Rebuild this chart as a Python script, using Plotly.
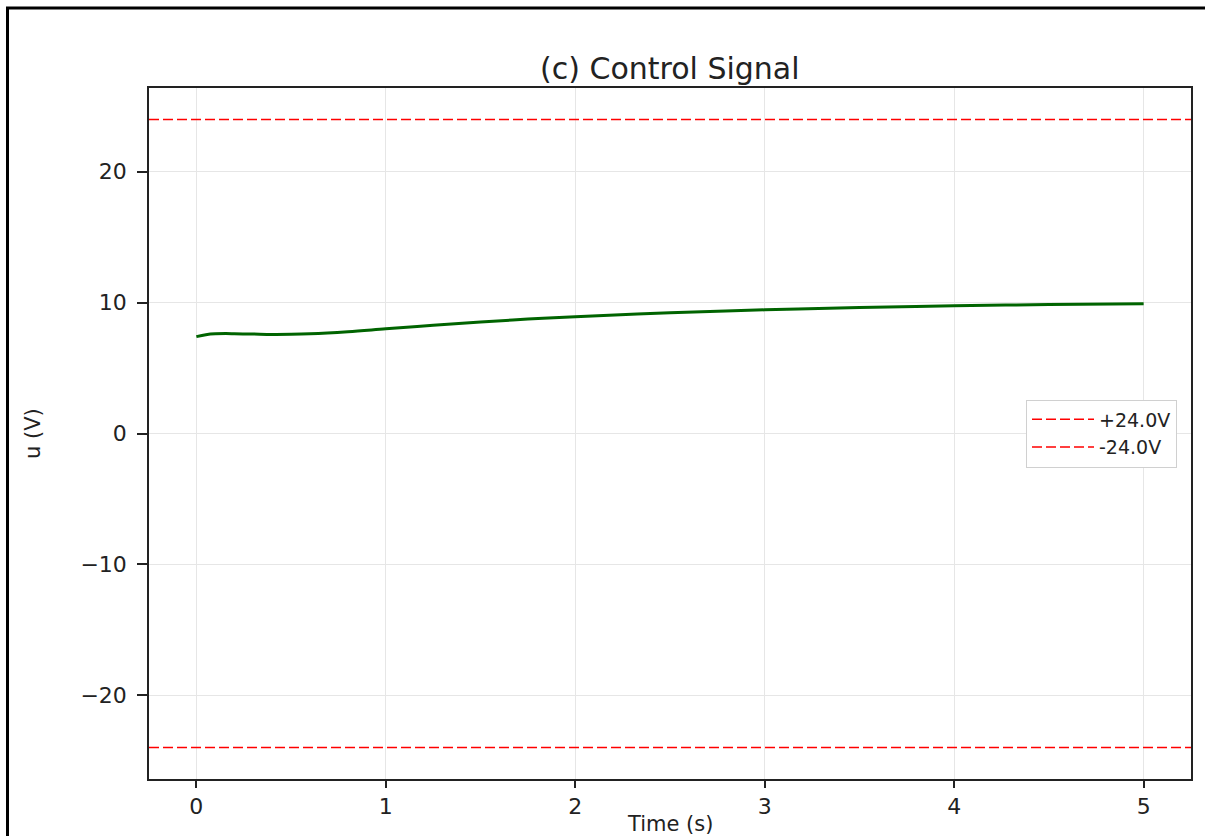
import plotly.graph_objects as go

# ---- data ----
time_s = [0.0, 0.05, 0.1, 0.2, 0.3, 0.4, 0.5, 0.6, 0.8, 1.0, 1.25, 1.5, 1.75,
          2.0, 2.5, 3.0, 3.5, 4.0, 4.5, 5.0]
u_volts = [7.4, 7.55, 7.62, 7.63, 7.6, 7.57, 7.58, 7.62, 7.78, 8.0, 8.27, 8.52,
           8.74, 8.93, 9.22, 9.45, 9.62, 9.76, 9.85, 9.92]
u_max = 24.0
u_min = -24.0
limit_labels = ["+24.0V", "-24.0V"]
x_range = [-0.25, 5.25]
y_range = [-26.4, 26.4]
x_ticks = [0, 1, 2, 3, 4, 5]
y_ticks = [-20, -10, 0, 10, 20]
y_ticktext = ["\u221220", "\u221210", "0", "10", "20"]

W, H = 1205, 836
L, R, T, B = 149, 1191, 88, 779  # plot area in pixels

fig = go.Figure()
fig.add_trace(go.Scatter(x=time_s, y=u_volts, mode="lines", showlegend=False,
                         line=dict(color="#006400", width=3, shape="spline")))
fig.add_trace(go.Scatter(x=x_range, y=[u_max, u_max], mode="lines", name=limit_labels[0],
                         line=dict(color="red", width=1.5, dash="10px,4px")))
fig.add_trace(go.Scatter(x=x_range, y=[u_min, u_min], mode="lines", name=limit_labels[1],
                         line=dict(color="red", width=1.5, dash="10px,4px")))

font_family = "DejaVu Sans"
pw, ph = R - L, B - T

def px2paper_x(px):
    return (px - L) / pw

def px2paper_y(py):
    return (B - py) / ph

axis_common = dict(showline=True, linecolor="#222", linewidth=1.5, mirror=True,
                   ticks="outside", tickcolor="#222", tickwidth=1.5,
                   showgrid=True, gridcolor="#e6e6e6", gridwidth=1,
                   zeroline=False, tickfont=dict(family=font_family, size=22, color="#222"))

fig.update_layout(
    width=W, height=H,
    margin=dict(l=L, r=W - R, t=T, b=H - B, autoexpand=False),
    plot_bgcolor="white", paper_bgcolor="white",
    font=dict(family=font_family, color="#222"),
    showlegend=True,
    legend=dict(x=px2paper_x(1177), xanchor="right", y=0.5, yanchor="middle",
                bgcolor="white", bordercolor="#d0d0d0", borderwidth=1,
                itemwidth=62,
                font=dict(family=font_family, size=19, color="#222"),
                tracegroupgap=0),
    xaxis=dict(range=x_range, tickvals=x_ticks, ticklen=7, **axis_common),
    yaxis=dict(range=y_range, tickvals=y_ticks, ticktext=y_ticktext, ticklen=10,
               ticklabelstandoff=6, **axis_common),
    annotations=[
        dict(text="(c) Control Signal", xref="paper", yref="paper",
             x=0.5, y=px2paper_y(68), xanchor="center", yanchor="middle",
             showarrow=False, font=dict(family=font_family, size=30, color="#222")),
        dict(text="Time (s)", xref="paper", yref="paper",
             x=0.5, y=px2paper_y(824), xanchor="center", yanchor="middle",
             showarrow=False, font=dict(family=font_family, size=21, color="#222")),
        dict(text="u (V)", xref="paper", yref="paper", textangle=-90,
             x=px2paper_x(33), y=px2paper_y(434), xanchor="center", yanchor="middle",
             showarrow=False, font=dict(family=font_family, size=21, color="#222")),
    ],
    shapes=[
        dict(type="rect", xref="paper", yref="paper",
             x0=px2paper_x(7.5), x1=px2paper_x(1220),
             y0=px2paper_y(900), y1=px2paper_y(8),
             line=dict(color="black", width=3), fillcolor="rgba(0,0,0,0)", layer="above"),
    ],
)

fig.write_html("out.html")
